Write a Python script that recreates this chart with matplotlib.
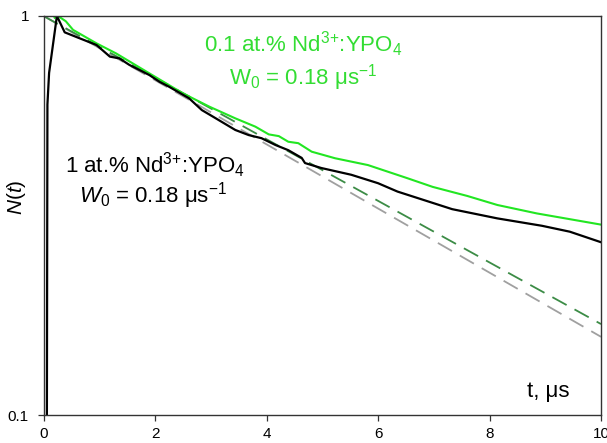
import matplotlib
matplotlib.use("Agg")
import matplotlib.pyplot as plt
from matplotlib.ticker import FixedLocator, NullLocator

plt.rcParams['font.family'] = ['Liberation Sans', 'DejaVu Sans']
plt.rcParams['mathtext.fontset'] = 'custom'
plt.rcParams['mathtext.rm'] = 'Liberation Sans'
plt.rcParams['mathtext.it'] = 'Liberation Sans:italic'
plt.rcParams['mathtext.bf'] = 'Liberation Sans:bold'

# 1 at.% sample (black)
t_black = [0.06, 0.07, 0.10, 0.24, 0.38, 0.65, 0.95, 1.19, 1.36, 1.54, 1.90, 2.08,
           2.25, 2.61, 2.84, 3.09, 3.44, 3.68, 3.91, 4.16, 4.39, 4.63, 4.69, 4.98,
           5.52, 6.00, 6.35, 7.33, 8.14, 8.94, 9.44, 10.0]
n_black = [0.09, 0.60, 0.72, 1.00, 0.91, 0.879, 0.846, 0.791, 0.783, 0.754, 0.711, 0.684,
           0.665, 0.622, 0.581, 0.554, 0.518, 0.503, 0.494, 0.475, 0.461, 0.441, 0.428, 0.416,
           0.400, 0.381, 0.363, 0.328, 0.311, 0.298, 0.288, 0.271]

# 0.1 at.% sample (green)
t_green = [0.20, 0.26, 0.40, 0.53, 0.95, 1.30, 1.90, 2.49, 2.97, 3.44, 3.80, 4.04,
           4.22, 4.39, 4.57, 4.81, 5.23, 5.82, 6.53, 6.98, 7.60, 8.14, 8.85, 10.0]
n_green = [0.99, 1.00, 0.97, 0.923, 0.854, 0.806, 0.718, 0.641, 0.593, 0.554, 0.528, 0.505,
           0.500, 0.484, 0.480, 0.457, 0.440, 0.423, 0.392, 0.373, 0.354, 0.336, 0.320, 0.300]

# exponential fits (W0 = 0.18 us^-1)
t_fit_gray = [0.0, 10.0]
n_fit_gray = [1.0, 0.157]
t_fit_green = [0.0, 10.0]
n_fit_green = [1.0, 0.169]

x_ticks = [0, 2, 4, 6, 8, 10]
y_ticks = [0.1, 1]
y_tick_labels = ['0.1', '1']

fig = plt.figure(figsize=(6.07, 4.43), dpi=100)
ax = fig.add_axes([0.0717, 0.0632, 0.9185, 0.9007])

ax.plot(t_fit_gray, n_fit_gray, color='#a0a0a0', lw=1.3, dashes=(9, 5))
ax.plot(t_fit_green, n_fit_green, color='#3c8c46', lw=1.3, dashes=(9, 5))
ax.plot(t_green, n_green, color='#22e622', lw=1.5)
ax.plot(t_black, n_black, color='black', lw=1.6)

ax.set_yscale('log')
ax.set_xlim(0, 10)
ax.set_ylim(0.1, 1)
ax.xaxis.set_major_locator(FixedLocator(x_ticks))
ax.yaxis.set_major_locator(FixedLocator(y_ticks))
ax.yaxis.set_minor_locator(NullLocator())
ax.set_yticklabels(y_tick_labels)
ax.tick_params(axis='both', which='major', direction='out', length=4.5, width=0.9,
               labelsize=11, color='#333333')
ax.tick_params(axis='x', pad=4)
ax.tick_params(axis='y', pad=6)
for s in ax.spines.values():
    s.set_linewidth(1.0)
    s.set_color('#333333')

ax.set_ylabel(r'$N(t)$', fontsize=15)
ax.yaxis.set_label_coords(-0.028, 0.546)

green_txt = '#33dd33'
ax.text(0.466, 0.930, '0.1 at.% Nd$^{3{+}}$:YPO$_4$', transform=ax.transAxes,
        ha='center', va='center', fontsize=16, color=green_txt)
ax.text(0.465, 0.845, 'W$_0$ = 0.18 μs$^{-1}$', transform=ax.transAxes,
        ha='center', va='center', fontsize=16, color=green_txt)
ax.text(0.199, 0.627, '1 at.% Nd$^{3{+}}$:YPO$_4$', transform=ax.transAxes,
        ha='center', va='center', fontsize=16, color='black')
ax.text(0.197, 0.549, '$W_0$ = 0.18 μs$^{-1}$', transform=ax.transAxes,
        ha='center', va='center', fontsize=16, color='black')
ax.text(0.943, 0.06, 't, μs', transform=ax.transAxes,
        ha='right', va='center', fontsize=16, color='black')

fig.savefig('out.png', dpi=100)
